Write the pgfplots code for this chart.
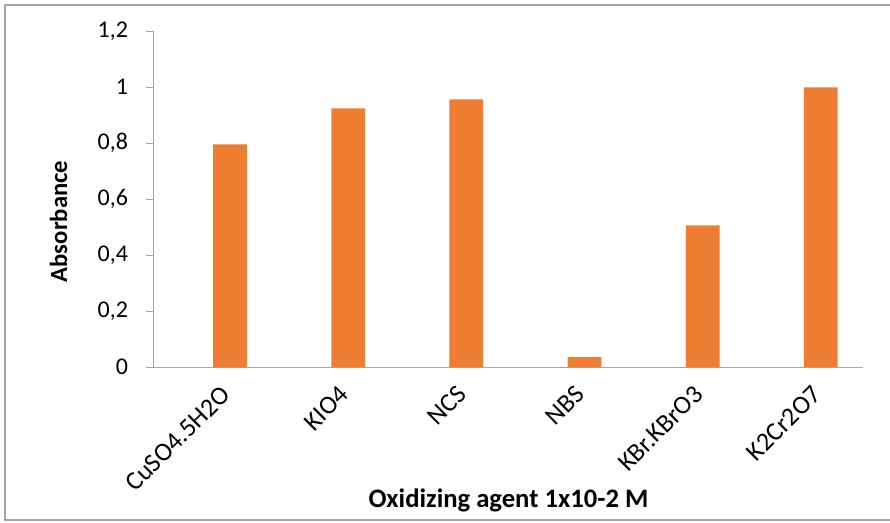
\documentclass[border=0pt]{standalone}
\usepackage{fontspec}
\setmainfont{Carlito}
\usepackage{pgfplots}
\pgfplotsset{compat=1.18}
\definecolor{barorange}{HTML}{ED7D31}
\definecolor{axgray}{HTML}{A6A6A6}
\definecolor{framegray}{HTML}{A3A3A3}

\begin{document}
\begin{tikzpicture}[font=\fontsize{18}{21}\selectfont]
% page = 890x522 px at 0.75pt per px, axis lower-left at (154,367) px
\useasboundingbox (-115.5pt,-116.25pt) rectangle (552pt,275.25pt);
\draw[framegray, line width=1.5pt] (553pt,271.5pt) -- (-111.75pt,271.5pt) -- (-111.75pt,-114.75pt) -- (553pt,-114.75pt);

\begin{axis}[
    at={(0,0)}, anchor=south west,
    scale only axis,
    width=531.75pt, height=252pt,
    xmin=-0.5, xmax=5.5,
    ymin=0, ymax=1.2,
    axis x line=bottom, axis y line=left,
    axis line style={-, axgray, line width=0.75pt},
    tick align=outside,
    tick style={axgray, line width=0.75pt},
    major tick length=6pt,
    tick label style={font=\fontsize{18}{21}\selectfont},
    xtick={0,1,2,3,4,5},
    xticklabels={CuSO4.5H2O, KIO4, NCS, NBS, KBr.KBrO3, K2Cr2O7},
    x tick style={draw=none},
    extra x ticks={-0.5,0.5,1.5,2.5,3.5,4.5,5.5},
    extra x tick labels={},
    extra x tick style={tick style={axgray, line width=0.75pt}, major tick length=5.5pt},
    xticklabel style={rotate=45, anchor=east, xshift=2pt, yshift=-15pt, font=\fontsize{19.5}{22}\selectfont},
    ytick={0,0.2,0.4,0.6,0.8,1,1.2},
    yticklabel style={xshift=-10pt},
    /pgf/number format/use comma,
    /pgf/number format/assume math mode=true,
    xlabel={\textbf{Oxidizing agent 1x10-2 M}},
    xlabel style={at={(rel axis cs:0.5,-0.4167)}, anchor=base, font=\fontsize{20}{24}\selectfont},
    ylabel={\textbf{Absorbance}},
    ylabel style={at={(rel axis cs:-0.1227,0.433)}, anchor=base, rotate=0, font=\fontsize{18.5}{22}\selectfont},
    ybar,
    bar width=0.2857,
    bar shift=0.1429,
]
\addplot[fill=barorange, draw=none] coordinates {
    (0,0.795) (1,0.924) (2,0.956) (3,0.035) (4,0.506) (5,0.999)
};
\end{axis}
\end{tikzpicture}
\end{document}
